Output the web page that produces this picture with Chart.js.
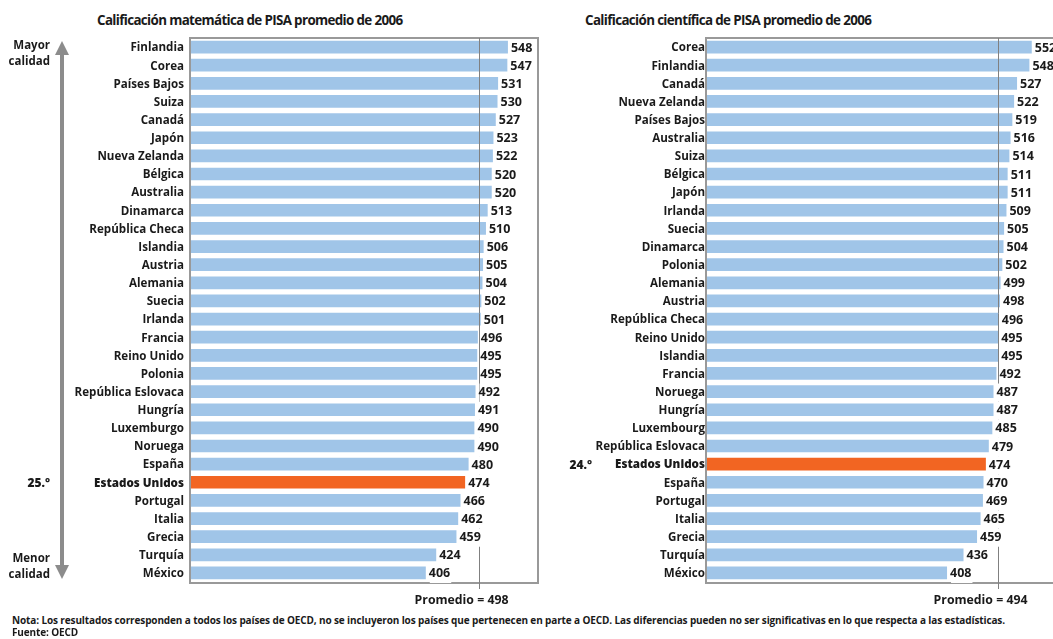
<!DOCTYPE html>
<html>
<head>
<meta charset="utf-8">
<script src="https://cdn.jsdelivr.net/npm/chart.js@4.4.1/dist/chart.umd.min.js"></script>
<style>
  body { margin: 0; width: 1053px; height: 639px; overflow: hidden; background: #fff; position: relative; font-family: 'Open Sans', sans-serif; color: #1a1a1a; }
  .title { position: absolute; top: 11px; font-size: 13.4px; font-weight: bold; white-space: nowrap; letter-spacing: -0.65px; }
  .side { position: absolute; font-size: 11.5px; font-weight: bold; text-align: right; line-height: 16px; width: 50px; left: 0; }
  .note { position: absolute; left: 12px; font-size: 10px; font-weight: bold; white-space: nowrap; letter-spacing: -0.12px; }
  .wrap { position: absolute; top: 0; height: 612px; }
</style>
</head>
<body>
<div class="title" style="left:97px">Calificación matemática de PISA promedio de 2006</div>
<div class="title" style="left:585px">Calificación científica de PISA promedio de 2006</div>

<div class="wrap" style="left:0;width:545px"><canvas id="chartMat"></canvas></div>
<div class="wrap" style="left:540px;width:540px"><canvas id="chartCie"></canvas></div>

<div class="side" style="top:37px">Mayor<br>calidad</div>
<div class="side" style="top:550px">Menor<br>calidad</div>

<div class="note" style="top:613px">Nota: Los resultados corresponden a todos los países de OECD, no se incluyeron los países que pertenecen en parte a OECD. Las diferencias pueden no ser significativas en lo que respecta a las estadísticas.</div>
<div class="note" style="top:625px">Fuente: OECD</div>

<script>
// datos matematicas
const mathCountries = ['Finlandia', 'Corea', 'Países Bajos', 'Suiza', 'Canadá', 'Japón', 'Nueva Zelanda', 'Bélgica', 'Australia', 'Dinamarca',
    'República Checa', 'Islandia', 'Austria', 'Alemania', 'Suecia', 'Irlanda', 'Francia', 'Reino Unido', 'Polonia', 'República Eslovaca',
    'Hungría', 'Luxemburgo', 'Noruega', 'España', 'Estados Unidos', 'Portugal', 'Italia', 'Grecia', 'Turquía', 'México'];
const mathScores = [548, 547, 531, 530, 527, 523, 522, 520, 520, 513, 510, 506, 505, 504, 502, 501, 496, 495, 495, 492,
    491, 490, 490, 480, 474, 466, 462, 459, 424, 406];
const mathAvg = 498;
const mathRank = '25.°';

// datos ciencias
const sciCountries = ['Corea', 'Finlandia', 'Canadá', 'Nueva Zelanda', 'Países Bajos', 'Australia', 'Suiza', 'Bélgica', 'Japón', 'Irlanda',
    'Suecia', 'Dinamarca', 'Polonia', 'Alemania', 'Austria', 'República Checa', 'Reino Unido', 'Islandia', 'Francia', 'Noruega',
    'Hungría', 'Luxembourg', 'República Eslovaca', 'Estados Unidos', 'España', 'Portugal', 'Italia', 'Grecia', 'Turquía', 'México'];
const sciScores = [552, 548, 527, 522, 519, 516, 514, 511, 511, 509, 505, 504, 502, 499, 498, 496, 495, 495, 492, 487,
    487, 485, 479, 474, 470, 469, 465, 459, 436, 408];
const sciAvg = 494;
const sciRank = '24.°';

const highlight = 'Estados Unidos';
const BLUE = '#a0c5e8';
const ORANGE = '#f26522';
const GRAY = '#999999';
const FONT = "'Open Sans'";

// caja, linea de promedio, etiquetas de valor, flecha
const extras = {
    id: 'extras',
    afterDatasetsDraw(chart, args, opts) {
        const ctx = chart.ctx;
        const area = chart.chartArea;
        const xs = chart.scales.x;
        const ys = chart.scales.y;
        const labels = chart.data.labels;
        const data = chart.data.datasets[0].data;
        const step = ys.getPixelForValue(1) - ys.getPixelForValue(0);
        ctx.save();

        // caja gris
        ctx.strokeStyle = GRAY;
        ctx.lineWidth = 2;
        ctx.strokeRect(area.left - 1, area.top, area.right - area.left + 1, area.bottom - area.top + 1);

        // linea de promedio
        const ax = Math.round(xs.getPixelForValue(opts.avg)) + 0.5;
        ctx.strokeStyle = '#808080';
        ctx.lineWidth = 1;
        ctx.beginPath();
        ctx.moveTo(ax, area.top);
        ctx.lineTo(ax, area.bottom + 7);
        ctx.stroke();
        ctx.fillStyle = '#1a1a1a';
        ctx.font = 'bold 12.3px ' + FONT;
        ctx.textAlign = 'right';
        ctx.textBaseline = 'middle';
        ctx.fillText('Promedio = ' + opts.avg, ax + 29, area.bottom + 18);

        // valores
        const vfont = 'bold 12.5px ' + FONT;
        ctx.font = vfont;
        ctx.textAlign = 'left';
        data.forEach((v, i) => {
            const y = ys.getPixelForValue(i) + 1;
            const x = xs.getPixelForValue(v) + 3;
            const w = ctx.measureText(String(v)).width;
            ctx.fillStyle = '#fff';
            ctx.fillRect(x + 1, y - step / 2, w, step);
            ctx.fillStyle = '#1a1a1a';
            ctx.fillText(String(v), x, y);
            if (labels[i] === highlight) {
                ctx.textAlign = 'right';
                ctx.font = '800 12px ' + FONT;
                ctx.fillText(opts.rank, opts.rankX, y);
                ctx.font = vfont;
                ctx.textAlign = 'left';
            }
        });

        // flecha de calidad
        if (opts.arrow) {
            const cx = 62;
            const top = area.top + 3;
            const bot = area.bottom - 3;
            ctx.fillStyle = '#8c8c8c';
            ctx.fillRect(cx - 2, top + 10, 4, bot - top - 20);
            ctx.beginPath();
            ctx.moveTo(cx, top);
            ctx.lineTo(cx + 7, top + 14);
            ctx.lineTo(cx - 7, top + 14);
            ctx.closePath();
            ctx.fill();
            ctx.beginPath();
            ctx.moveTo(cx, bot);
            ctx.lineTo(cx + 7, bot - 14);
            ctx.lineTo(cx - 7, bot - 14);
            ctx.closePath();
            ctx.fill();
        }
        ctx.restore();
    }
};

function makeChart(el, labels, scores, avg, rank, rankX, axisWidth, tickPad, padRight, arrow) {
    return new Chart(el, {
        type: 'bar',
        data: {
            labels: labels,
            datasets: [{
                data: scores,
                backgroundColor: labels.map(l => l === highlight ? ORANGE : BLUE),
                barPercentage: 0.7,
                categoryPercentage: 1
            }]
        },
        options: {
            indexAxis: 'y',
            responsive: true,
            maintainAspectRatio: false,
            animation: false,
            layout: { padding: { top: 38, bottom: 30, left: 0, right: padRight } },
            scales: {
                x: { display: false, min: 0, max: 600 },
                y: {
                    grid: { display: false, drawTicks: false },
                    border: { display: false },
                    afterFit: (scale) => { scale.width = axisWidth; },
                    ticks: {
                        autoSkip: false,
                        padding: tickPad,
                        labelOffset: 1,
                        color: '#1a1a1a',
                        font: (c) => ({
                            family: FONT,
                            size: 11.6,
                            weight: labels[c.index] === highlight ? '800' : 'bold'
                        })
                    }
                }
            },
            plugins: {
                legend: { display: false },
                tooltip: { enabled: false },
                extras: { avg: avg, rank: rank, rankX: rankX, arrow: arrow }
            }
        },
        plugins: [extras]
    });
}

makeChart(document.getElementById('chartMat'), mathCountries, mathScores, mathAvg, mathRank, 50, 191, 7, 7, true);
makeChart(document.getElementById('chartCie'), sciCountries, sciScores, sciAvg, sciRank, 52, 167, 2, 20, false);
</script>
</body>
</html>
